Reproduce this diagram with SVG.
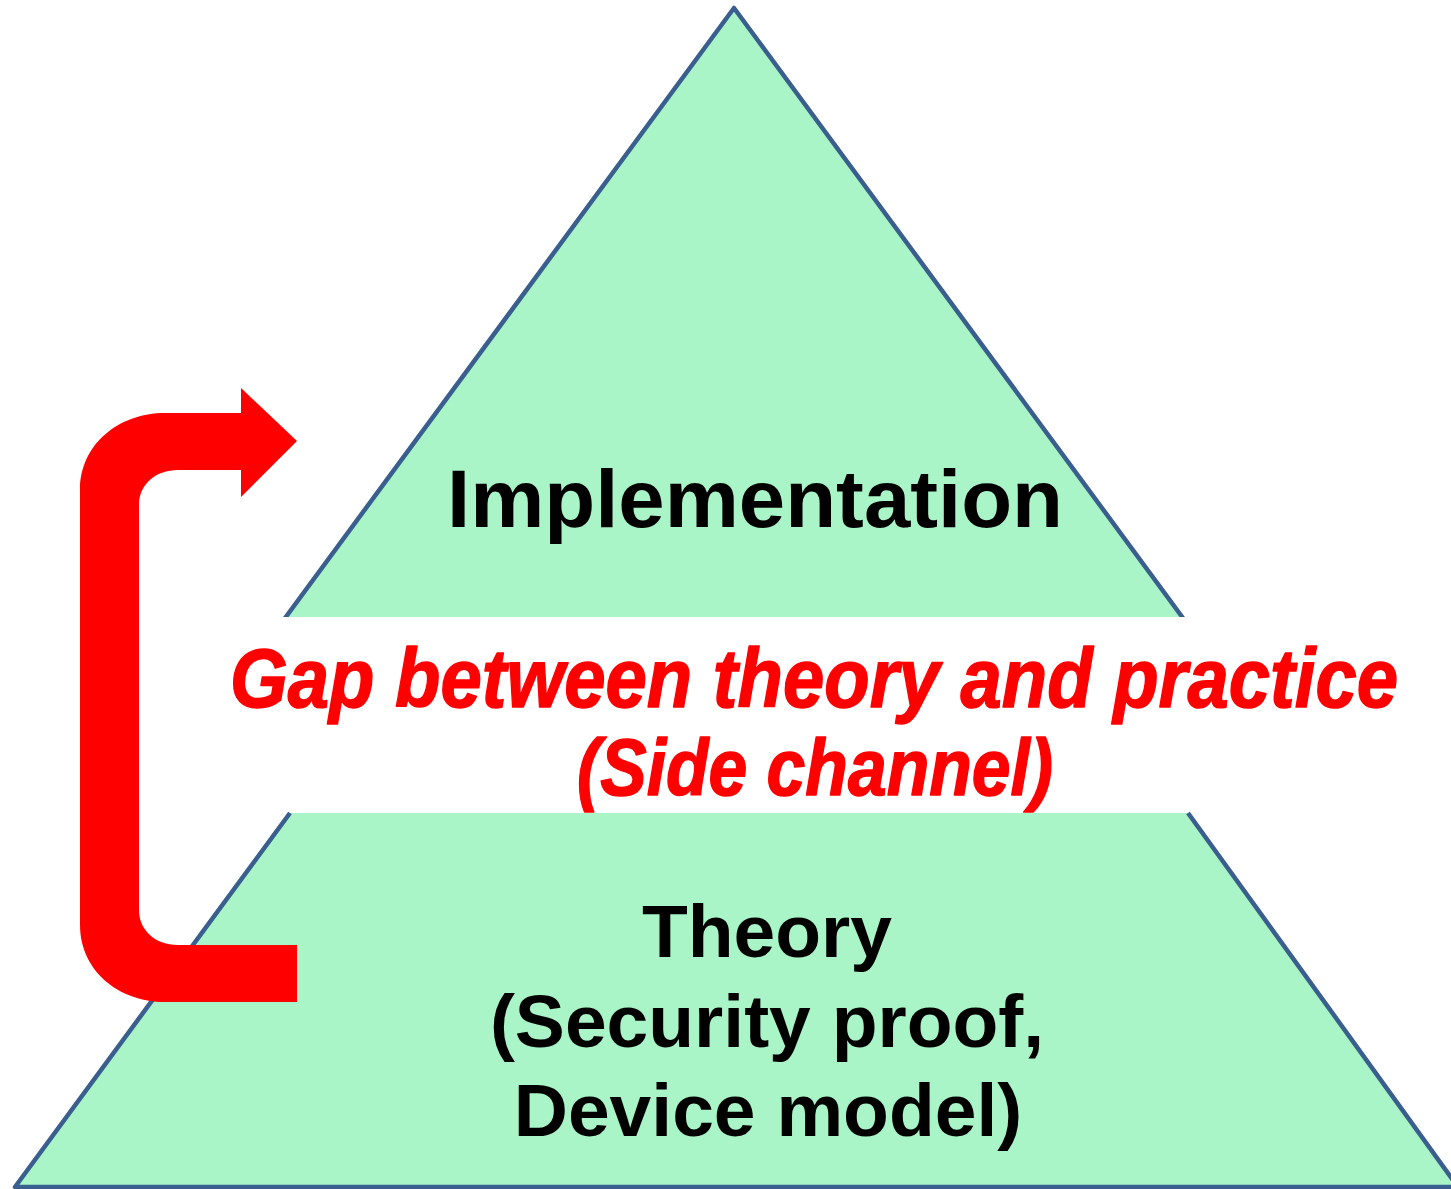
<svg xmlns="http://www.w3.org/2000/svg" width="1451" height="1189" viewBox="0 0 1451 1189">
  <style>
    .tier { fill: #a9f5c7; }
    .edge { fill: none; stroke: #3a5f8e; stroke-width: 4.5; stroke-linejoin: round; }
    .label { font-family: "Liberation Sans", Arial, sans-serif; font-weight: bold; fill: #000000; }
    .gap { font-family: "Liberation Sans", Arial, sans-serif; font-weight: bold; font-style: italic; fill: #ff0000; stroke: #ff0000; stroke-width: 1.5; stroke-linejoin: round; }
    .loop { fill: #ff0000; }
  </style>

  <rect x="0" y="0" width="1451" height="1189" fill="#ffffff"/>

  <!-- upper tier: implementation -->
  <g id="implementation">
    <polygon class="tier" points="734,8 210,720 1258,720"/>
    <polyline class="edge" points="210,720 734,8 1258,720"/>
    <text class="label" x="447" y="527" font-size="82" textLength="616" lengthAdjust="spacingAndGlyphs">Implementation</text>
  </g>

  <!-- white band separating the tiers -->
  <rect id="band" x="0" y="617" width="1451" height="196" fill="#ffffff"/>

  <!-- lower tier: theory -->
  <g id="theory">
    <polygon class="tier" points="290,813 1188,813 1458,1187 15,1187"/>
    <polyline class="edge" points="290,813 15,1187 1458,1187 1188,813"/>
    <g class="label" font-size="75" text-anchor="middle">
      <text x="767" y="957">Theory</text>
      <text x="767" y="1047">(Security proof,</text>
      <text x="768" y="1136">Device model)</text>
    </g>
  </g>

  <!-- caption in the band -->
  <g id="gap">
    <text class="gap" x="230" y="707" font-size="84" textLength="1168" lengthAdjust="spacingAndGlyphs">Gap between theory and practice</text>
    <text class="gap" x="577" y="795" font-size="80" textLength="476" lengthAdjust="spacingAndGlyphs">(Side channel)</text>
  </g>

  <!-- connector: feedback loop from theory up to implementation -->
  <g id="connectors">
    <path class="loop" d="M297,1002 L165,1002 C118,1002 80,970 80,925 L80,490 C80,445 118,413 165,413 L241,413 L241,388 L297,441 L241,497 L241,470 L178,470 C155,470 139,485 139,505 L139,910 C139,930 155,945 178,945 L297,945 Z"/>
  </g>
</svg>
